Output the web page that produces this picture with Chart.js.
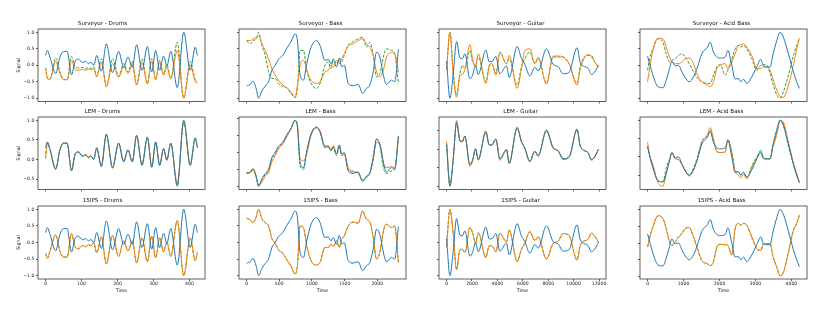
<!DOCTYPE html>
<html>
<head>
<meta charset="utf-8">
<script src="https://cdn.jsdelivr.net/npm/chart.js@4.4.0/dist/chart.umd.min.js"></script>
<style>
  body { margin: 0; background: #fff; }
  #grid { position: relative; width: 830px; height: 311px; overflow: hidden; }
  .cell { position: absolute; }
</style>
</head>
<body>
<div id="grid"></div>
<script>
// ---- data (time, then signal per series) ----
var instruments = ['Drums', 'Bass', 'Guitar', 'Acid Bass'];
var devices = ['Surveyor', 'LEM', '15IPS'];

// x tick labels per column, y ticks every 0.5
var drumTicks = [0, 100, 200, 300, 400];
var bassTicks = [0, 500, 1000, 1500, 2000];
var guitarTicks = [0, 2000, 4000, 6000, 8000, 10000, 12000];
var acidTicks = [0, 1000, 2000, 3000, 4000];
var signalTicks = [-1.0, -0.5, 0.0, 0.5, 1.0];

// Drums
var drumTimes = [0,5,12,28,40,50,60,72,82,91,103,111,119,126,134,142,155,169,186,203,217,229,241,253,268,283,295,306,317,328,337,348,366,384,402,416,422];
var drumInput = [0.30,0.45,0.25,-0.25,0.25,0.42,0.42,-0.29,0.12,0.19,0.08,0.12,0.05,0.09,0.0,0.30,-0.18,0.65,-0.22,0.42,-0.06,0.25,-0.06,0.62,-0.15,0.57,-0.2,0.45,-0.15,0.28,-0.02,0.42,-0.68,1.0,-0.15,0.55,0.30];
var drumSurvOrange = [-0.10,-0.38,-0.43,0.12,-0.25,-0.44,-0.44,0.13,-0.12,-0.15,-0.13,-0.15,-0.12,-0.14,-0.1,-0.35,0.08,-0.65,0.05,-0.36,-0.05,-0.25,0.03,-0.6,0.08,-0.57,0.12,-0.45,0.1,-0.3,-0.05,-0.42,0.45,-1.0,0.0,-0.5,-0.55];
var drumSurvGreen = [-0.08,-0.4,-0.43,0.22,-0.2,-0.43,-0.43,0.27,-0.05,-0.08,-0.07,-0.1,-0.07,-0.1,-0.05,-0.33,0.2,-0.65,0.2,-0.33,0.05,-0.2,0.12,-0.58,0.2,-0.55,0.2,-0.42,0.15,-0.27,0.02,-0.4,0.7,-1.0,0.12,-0.45,-0.5];
var drumLemOrange = [0.05,0.43,0.28,-0.22,0.26,0.42,0.4,-0.26,0.16,0.2,0.1,0.12,0.07,0.09,0.02,0.29,-0.15,0.63,-0.19,0.41,-0.04,0.24,-0.04,0.6,-0.12,0.56,-0.17,0.44,-0.12,0.27,0.0,0.4,-0.6,0.97,-0.12,0.54,0.33];
var drumLemGreen = [0.03,0.42,0.27,-0.24,0.25,0.42,0.41,-0.28,0.13,0.19,0.09,0.11,0.06,0.09,0.01,0.3,-0.17,0.64,-0.2,0.42,-0.05,0.25,-0.05,0.61,-0.14,0.57,-0.19,0.45,-0.14,0.28,-0.01,0.41,-0.65,0.98,-0.14,0.55,0.32];
var drumIps = [-0.33,-0.47,-0.27,0.23,-0.27,-0.44,-0.44,0.27,-0.13,-0.19,-0.09,-0.13,-0.06,-0.1,-0.01,-0.31,0.17,-0.65,0.21,-0.42,0.05,-0.25,0.05,-0.62,0.14,-0.58,0.19,-0.46,0.14,-0.28,0.01,-0.42,0.66,-1.0,0.14,-0.55,-0.3];

// Bass
var bassTimes = [0,56,97,148,183,234,285,336,387,437,488,554,626,676,743,778,819,870,921,987,1073,1124,1200,1251,1292,1327,1378,1419,1455,1495,1556,1633,1709,1775,1836,1887,1938,1989,2039,2100,2141,2218,2268,2324];
var bassInput = [-0.62,-0.58,-0.48,-0.72,-1.0,-0.78,-0.63,-0.5,-0.15,0.0,0.18,0.3,0.55,0.7,0.95,0.75,-0.3,-0.45,0.05,0.55,0.75,0.6,0.15,0.17,0.05,0.15,-0.05,0.22,-0.05,0.0,-0.55,-0.62,-0.58,-0.85,-0.7,-0.6,-0.2,0.4,0.25,-0.35,-0.58,-0.45,-0.5,0.48];
var bassSurvOrange = [0.75,0.75,0.8,0.85,0.9,0.65,0.45,0.2,-0.1,-0.3,-0.45,-0.6,-0.7,-0.8,-0.98,-0.6,0.0,0.15,-0.15,-0.45,-0.55,-0.5,-0.2,-0.15,0.0,-0.05,0.15,0.05,0.2,0.35,0.6,0.65,0.75,0.8,0.65,0.55,0.3,-0.2,-0.35,-0.1,0.25,0.38,0.35,-0.2];
var bassSurvGreen = [0.75,0.65,0.75,0.8,1.0,0.6,0.3,-0.2,-0.4,-0.4,-0.55,-0.65,-0.7,-0.85,-0.98,-0.7,0.45,0.45,-0.15,-0.55,-0.7,-0.55,0.0,0.1,-0.1,0.2,0.05,0.2,0.1,0.3,0.6,0.72,0.8,0.85,0.55,0.7,0.3,-0.35,-0.25,0.3,0.5,0.45,0.35,-0.55];
var bassLemOrange = [-0.62,-0.6,-0.52,-0.75,-0.98,-0.88,-0.7,-0.6,-0.28,-0.1,0.1,0.25,0.5,0.68,0.93,0.82,-0.18,-0.25,-0.05,0.5,0.72,0.65,0.2,0.2,0.1,0.2,-0.05,0.22,-0.05,-0.05,-0.45,-0.55,-0.62,-0.82,-0.75,-0.62,-0.2,0.3,0.25,-0.35,-0.45,-0.42,-0.45,0.4];
var bassLemGreen = [-0.6,-0.58,-0.5,-0.7,-1.0,-0.8,-0.65,-0.55,-0.2,-0.05,0.15,0.28,0.55,0.7,0.95,0.8,-0.4,-0.5,0.0,0.55,0.75,0.62,0.15,0.17,0.05,0.17,-0.1,0.2,-0.1,-0.05,-0.5,-0.58,-0.6,-0.85,-0.72,-0.6,-0.1,0.4,0.2,-0.5,-0.62,-0.55,-0.5,0.5];
var bassIps = [0.73,0.68,0.6,0.78,1.0,0.72,0.6,0.5,0.12,-0.02,-0.22,-0.32,-0.55,-0.7,-0.95,-0.7,0.5,0.45,-0.1,-0.55,-0.68,-0.6,-0.15,-0.15,-0.05,-0.12,0.05,-0.15,0.1,0.2,0.5,0.62,0.58,0.95,0.7,0.62,0.15,-0.5,-0.3,0.4,0.55,0.45,0.5,-0.6];

// Guitar
var guitarTimes = [0,262,524,786,1048,1231,1441,1834,2044,2279,2489,3092,3354,3563,3878,4192,4716,4926,5554,5895,6157,6550,6943,7205,7860,8384,8777,9170,9642,10270,10532,11135,11397,11659,11950];
var guitarInput = [0.13,-1.0,-0.25,0.72,0.22,0.2,0.35,-0.41,-0.3,0.0,-0.28,0.46,0.11,0.11,0.27,-0.26,-0.02,-0.37,0.57,0.2,0.03,-0.32,-0.06,-0.17,0.5,0.03,-0.04,-0.26,-0.21,0.53,0.07,-0.09,-0.28,-0.2,0.0];
var guitarSurvOrange = [-0.15,1.0,-0.3,-0.97,-0.3,-0.28,-0.12,0.63,0.2,-0.05,0.35,-0.55,-0.05,0.05,-0.3,0.38,0.05,0.3,-0.7,-0.1,0.45,0.5,0.05,0.25,-0.57,0.28,0.28,0.25,0.05,-0.6,-0.1,0.33,0.25,0.1,-0.05];
var guitarSurvGreen = [-0.1,1.0,-0.2,-0.9,-0.25,0.0,-0.1,0.45,0.1,0.0,0.25,-0.5,0.0,0.05,-0.25,0.4,0.05,0.2,-0.6,-0.05,0.2,0.4,0.05,0.2,-0.55,0.25,0.25,0.25,0.05,-0.55,0.0,0.3,0.3,0.1,-0.05];
var guitarLemOrange = [0.2,-0.97,-0.3,0.78,0.25,0.22,0.36,-0.47,-0.32,0.02,-0.3,0.5,0.13,0.12,0.28,-0.3,0.0,-0.4,0.6,0.22,0.03,-0.35,-0.05,-0.2,0.53,0.05,-0.05,-0.28,-0.22,0.55,0.08,-0.1,-0.3,-0.22,0.0];
var guitarLemGreen = [0.13,-0.98,-0.25,0.72,0.23,0.2,0.34,-0.41,-0.3,0.0,-0.27,0.46,0.12,0.11,0.27,-0.25,-0.02,-0.36,0.56,0.2,0.04,-0.31,-0.06,-0.17,0.49,0.04,-0.04,-0.25,-0.21,0.52,0.07,-0.09,-0.27,-0.2,0.0];
var guitarIps = [-0.12,1.0,0.25,-0.82,-0.22,-0.2,-0.3,0.45,0.3,-0.02,0.3,-0.45,-0.1,-0.1,-0.28,0.28,0.02,0.38,-0.57,-0.2,-0.03,0.33,0.06,0.17,-0.5,-0.03,0.04,0.27,0.21,-0.53,-0.07,0.1,0.28,0.2,0.0];

// Acid Bass
var acidTimes = [0,56,148,287,426,519,611,676,769,861,954,1046,1157,1278,1389,1509,1667,1741,1833,1926,2019,2158,2232,2343,2435,2528,2593,2667,2759,2898,3037,3148,3222,3315,3408,3482,3593,3685,3778,3917,4056,4148,4223];
var acidInput = [0.27,0.05,-0.3,-0.65,-0.68,-0.45,-0.1,0.12,-0.02,0.0,-0.2,-0.38,-0.5,-0.35,-0.05,0.35,0.55,0.7,0.4,0.25,0.22,0.25,0.45,0.0,-0.42,-0.4,-0.5,-0.42,-0.55,-0.35,-0.05,0.18,-0.02,-0.05,-0.05,0.3,0.75,1.0,0.85,0.35,-0.2,-0.5,-0.7];
var acidSurvOrange = [-0.5,-0.1,0.45,0.82,0.8,0.55,0.25,0.1,0.05,0.05,0.1,0.2,0.22,0.05,-0.3,-0.5,-0.6,-0.65,-0.5,-0.1,0.0,0.05,-0.1,0.1,0.35,0.6,0.62,0.65,0.55,0.3,-0.1,-0.1,-0.05,-0.05,-0.15,-0.4,-0.75,-0.95,-0.97,-0.6,0.0,0.5,0.82];
var acidSurvGreen = [-0.15,0.2,0.5,0.8,0.7,0.35,0.1,0.15,0.2,0.3,0.35,0.25,0.05,-0.2,-0.4,-0.5,-0.55,-0.55,-0.3,-0.05,0.02,-0.3,-0.15,0.2,0.5,0.6,0.55,0.6,0.5,0.2,-0.15,0.0,0.02,0.0,-0.25,-0.55,-0.9,-1.0,-0.8,-0.3,0.3,0.6,0.82];
var acidLemOrange = [0.4,0.05,-0.2,-0.7,-0.8,-0.45,-0.1,0.1,-0.05,-0.08,-0.2,-0.38,-0.52,-0.35,-0.05,0.4,0.62,0.8,0.5,0.15,0.12,0.13,0.45,0.12,-0.4,-0.5,-0.58,-0.48,-0.6,-0.3,-0.05,0.1,-0.05,-0.06,-0.05,0.25,0.6,1.0,0.95,0.4,-0.15,-0.45,-0.7];
var acidLemGreen = [0.3,0.0,-0.25,-0.65,-0.68,-0.3,-0.05,0.12,-0.05,-0.07,-0.2,-0.35,-0.5,-0.3,0.0,0.43,0.57,0.73,0.43,0.15,0.12,0.15,0.48,0.15,-0.38,-0.42,-0.5,-0.42,-0.56,-0.25,0.0,0.12,-0.05,-0.05,-0.05,0.3,0.65,1.0,0.9,0.3,-0.2,-0.51,-0.7];
var acidIps = [-0.12,0.15,0.48,0.81,0.73,0.43,0.03,-0.07,0.03,0.18,0.28,0.43,0.46,0.18,-0.17,-0.52,-0.62,-0.67,-0.55,-0.12,-0.04,-0.05,-0.07,-0.35,0.43,0.58,0.53,0.58,0.53,0.18,-0.17,-0.22,-0.02,-0.02,-0.02,-0.37,-0.72,-0.97,-0.87,-0.27,0.38,0.58,0.83];

// which arrays go in which panel
var times = [drumTimes, bassTimes, guitarTimes, acidTimes];
var xTicks = [drumTicks, bassTicks, guitarTicks, acidTicks];
var inputs = [drumInput, bassInput, guitarInput, acidInput];
var orangeSeries = [
  [drumSurvOrange, bassSurvOrange, guitarSurvOrange, acidSurvOrange],
  [drumLemOrange, bassLemOrange, guitarLemOrange, acidLemOrange],
  [drumIps, bassIps, guitarIps, acidIps]
];
var greenSeries = [
  [drumSurvGreen, bassSurvGreen, guitarSurvGreen, acidSurvGreen],
  [drumLemGreen, bassLemGreen, guitarLemGreen, acidLemGreen],
  [drumIps, bassIps, guitarIps, acidIps]
];

// ---- layout (pixels of the plot boxes) ----
var plotLefts = [38, 239, 439, 640];
var plotTops = [29, 117, 206];
var plotW = 167, plotH = 73;
var titleH = 14;
var FONT = 'DejaVu Sans';

// box around each axes like matplotlib spines
var spines = {
  id: 'spines',
  afterDraw: function(chart) {
    var a = chart.chartArea, ctx = chart.ctx;
    ctx.save();
    ctx.strokeStyle = '#3a3a3a';
    ctx.lineWidth = 0.8;
    ctx.strokeRect(a.left, a.top, a.right - a.left, a.bottom - a.top);
    ctx.restore();
  }
};

function points(ts, vs) {
  return ts.map(function(t, i) { return {x: t, y: vs[i]}; });
}

// matplotlib style 5% margins
function padRange(lists) {
  var lo = Infinity, hi = -Infinity;
  lists.forEach(function(l) { l.forEach(function(v) { lo = Math.min(lo, v); hi = Math.max(hi, v); }); });
  var m = (hi - lo) * 0.05;
  return [lo - m, hi + m];
}

function keepTicks(list) {
  return function(s) {
    s.ticks = list.filter(function(v) { return v >= s.min && v <= s.max; })
                  .map(function(v) { return {value: v}; });
  };
}

function makePanel(r, c) {
  var yw = c == 0 ? 38 : 4;
  var padRight = yw;   // symmetric so the title centres over the plot box
  var xh = r == 2 ? 17 : 4;
  var cell = document.createElement('div');
  cell.className = 'cell';
  cell.style.left = (plotLefts[c] - yw) + 'px';
  cell.style.top = (plotTops[r] - titleH) + 'px';
  var w = yw + plotW + padRight, h = titleH + plotH + xh;
  cell.style.width = w + 'px';
  cell.style.height = h + 'px';
  var cv = document.createElement('canvas');
  cv.width = w; cv.height = h;
  cell.appendChild(cv);
  document.getElementById('grid').appendChild(cell);

  var ts = times[c];
  var xr = padRange([ts]);
  var yr = padRange([inputs[c], orangeSeries[r][c], greenSeries[r][c]]);
  var tickGrid = {drawOnChartArea: false, drawTicks: true, tickLength: 2, color: '#3a3a3a', lineWidth: 0.8};

  new Chart(cv.getContext('2d'), {
    type: 'line',
    data: {
      datasets: [
        {data: points(ts, inputs[c]), borderColor: '#1f77b4', borderWidth: 1},
        {data: points(ts, orangeSeries[r][c]), borderColor: '#ff7f0e', borderWidth: 1},
        {data: points(ts, greenSeries[r][c]), borderColor: '#2ca02c', borderWidth: 1, borderDash: [3, 1.5]}
      ]
    },
    options: {
      responsive: false,
      animation: false,
      layout: {padding: {left: 0, right: padRight, top: 0, bottom: 0}},
      elements: {
        point: {radius: 0},
        line: {cubicInterpolationMode: 'monotone', fill: false}
      },
      plugins: {
        legend: {display: false},
        tooltip: {enabled: false},
        title: {
          display: true,
          text: devices[r] + ' - ' + instruments[c],
          color: '#111',
          font: {family: FONT, size: 5.6, weight: 'normal'},
          padding: {top: 5.6, bottom: 1.7}
        }
      },
      scales: {
        x: {
          type: 'linear', min: xr[0], max: xr[1],
          grid: tickGrid, border: {display: false},
          afterBuildTicks: keepTicks(xTicks[c]),
          ticks: {
            autoSkip: false, maxRotation: 0,
            padding: 0, color: '#262626', font: {family: FONT, size: 4.6},
            callback: function(v) { return r == 2 ? String(Math.round(v)) : ''; }
          },
          title: {display: r == 2, text: 'Time', color: '#111', font: {family: FONT, size: 4.7}, padding: {top: 0, bottom: 2.4}},
          afterFit: function(s) { s.height = xh; }
        },
        y: {
          type: 'linear', min: yr[0], max: yr[1],
          grid: tickGrid, border: {display: false},
          afterBuildTicks: keepTicks(signalTicks),
          ticks: {
            autoSkip: false,
            padding: 1.7, color: '#262626', font: {family: FONT, size: 4.6},
            callback: function(v) { return c == 0 ? Number(v).toFixed(1).replace('-', '\u2212') : ''; }
          },
          title: {display: c == 0, text: 'Signal', color: '#111', font: {family: FONT, size: 4.7}, padding: {top: 16.2, bottom: 0}},
          afterFit: function(s) { s.width = yw; }
        }
      }
    },
    plugins: [spines]
  });
}

for (var r = 0; r < 3; r++) {
  for (var c = 0; c < 4; c++) {
    makePanel(r, c);
  }
}
</script>
</body>
</html>
